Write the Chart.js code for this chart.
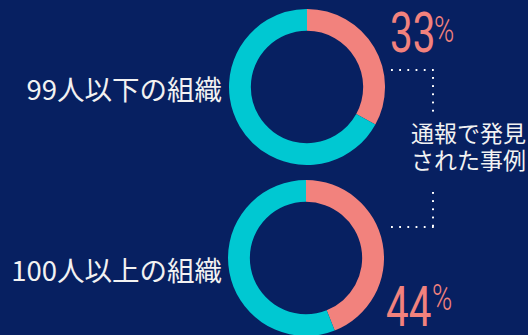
<!DOCTYPE html>
<html>
<head>
    <meta charset="UTF-8">
    <title>通報で発見された事例</title>
    <script src="https://cdn.jsdelivr.net/npm/chart.js@4.4.1/dist/chart.umd.min.js"></script>
    <style>
        html, body { margin: 0; padding: 0; }
        body {
            width: 528px; height: 335px; overflow: hidden;
            background: #072061; position: relative;
            font-family: "Noto Sans CJK JP", sans-serif; color: #f2f2f2;
        }
        .ring { position: absolute; width: 156px; height: 156px; }
        .label {
            position: absolute; right: 306px; font-size: 27.5px;
            line-height: 30px; white-space: nowrap;
        }
        .num, .sign {
            position: absolute; color: #f2827d; white-space: nowrap;
            font-family: Roboto, sans-serif; transform-origin: 0 0;
        }
        .num { font-size: 56px; line-height: 56px; transform: scaleX(0.72); }
        .sign { font-size: 37px; line-height: 37px; transform: scaleX(0.74); font-weight: 300; }
        .note {
            position: absolute; left: 411px; top: 119px; font-size: 23px;
            line-height: 27px; white-space: nowrap;
        }
        .hdots, .vdots { position: absolute; }
        .hdots {
            height: 2px; width: 43px;
            background: linear-gradient(to right, #fff 2px, transparent 2px) 0 0 / 8.2px 2px repeat-x;
        }
        .vdots {
            width: 2px; height: 35px;
            background: linear-gradient(to bottom, #fff 2px, transparent 2px) 0 0 / 2px 8.2px repeat-y;
        }
    </style>
</head>
<body>

<div class="ring" style="left:229px; top:9px;"><canvas id="small"></canvas></div>
<div class="ring" style="left:228px; top:180px;"><canvas id="large"></canvas></div>

<div class="label" id="smallLabel" style="top:73px;"></div>
<div class="label" id="largeLabel" style="top:254px;"></div>

<div class="num" id="smallNum" style="left:390px; top:5px;"></div>
<div class="sign" style="left:434px; top:11px;">%</div>
<div class="num" id="largeNum" style="left:386px; top:279px;"></div>
<div class="sign" style="left:432px; top:279px;">%</div>

<div class="hdots" style="left:391px; top:69px;"></div>
<div class="vdots" style="left:432px; top:77px;"></div>
<div class="vdots" style="left:432px; top:192px;"></div>
<div class="hdots" style="left:391px; top:226px;"></div>

<div class="note" id="note"></div>

<script>
    // 組織規模ごとの「通報で発見された事例」の割合
    var groups = ['99人以下の組織', '100人以上の組織'];
    var reported = [33, 44];
    var noteLines = ['通報で発見', 'された事例'];
    var colors = ['#f2827d', '#00c8d2'];

    document.getElementById('smallLabel').textContent = groups[0];
    document.getElementById('largeLabel').textContent = groups[1];
    document.getElementById('smallNum').textContent = reported[0];
    document.getElementById('largeNum').textContent = reported[1];
    document.getElementById('note').innerHTML = noteLines.join('<br>');

    function ring(id, value) {
        return new Chart(id, {
            type: 'doughnut',
            data: {
                labels: ['通報', 'その他'],
                datasets: [{
                    data: [value, 100 - value],
                    backgroundColor: colors,
                    borderWidth: 0
                }]
            },
            options: {
                responsive: true,
                maintainAspectRatio: false,
                animation: false,
                cutout: '72%',
                layout: { padding: 0 },
                plugins: {
                    legend: { display: false },
                    tooltip: { enabled: false }
                }
            }
        });
    }

    ring('small', reported[0]);
    ring('large', reported[1]);
</script>

</body>
</html>
